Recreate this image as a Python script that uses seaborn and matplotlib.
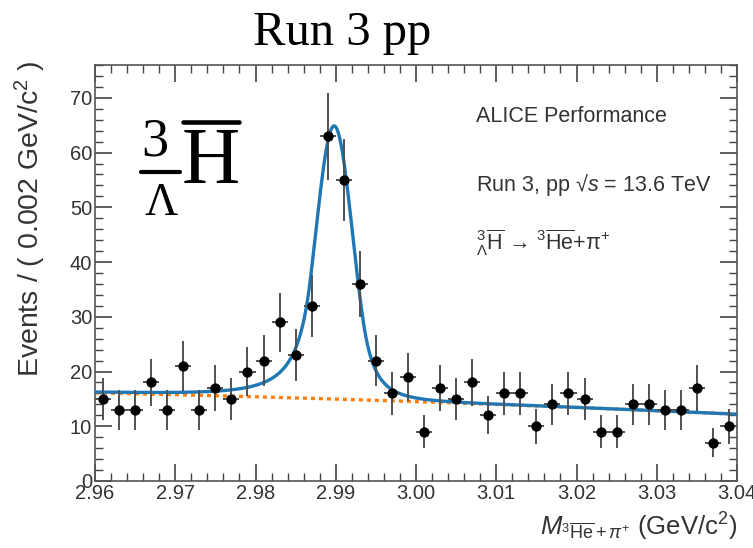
import numpy as np
import pandas as pd
import matplotlib
matplotlib.use("Agg")
import matplotlib.pyplot as plt
import seaborn as sns
from matplotlib.lines import Line2D

# ---------------- data ----------------
bin_centers = [2.961, 2.963, 2.965, 2.967, 2.969, 2.971, 2.973, 2.975, 2.977, 2.979,
               2.981, 2.983, 2.985, 2.987, 2.989, 2.991, 2.993, 2.995, 2.997, 2.999,
               3.001, 3.003, 3.005, 3.007, 3.009, 3.011, 3.013, 3.015, 3.017, 3.019,
               3.021, 3.023, 3.025, 3.027, 3.029, 3.031, 3.033, 3.035, 3.037, 3.039]
counts = [15, 13, 13, 18, 13, 21, 13, 17, 15, 20,
          22, 29, 23, 32, 63, 55, 36, 22, 16, 19,
          9, 17, 15, 18, 12, 16, 16, 10, 14, 16,
          15, 9, 9, 14, 14, 13, 13, 17, 7, 10]
bin_half_width = 0.001

# fit result (double-sided Crystal Ball + background)
sig_amp = 49.9
sig_mean = 2.9898
sig_sigma = 0.0023
alpha_left, n_left = 1.3, 2.5
alpha_right, n_right = 1.6, 4.0
bkg_x = [2.96, 3.00, 3.04]
bkg_y = [16.1, 14.5, 12.2]

x_ticks = [2.96, 2.97, 2.98, 2.99, 3.00, 3.01, 3.02, 3.03, 3.04]
y_ticks = [0, 10, 20, 30, 40, 50, 60, 70]

# ---------------- model ----------------
def dscb(x):
    t = (x - sig_mean) / sig_sigma
    out = np.exp(-0.5 * t ** 2)
    aL, nL, aR, nR = alpha_left, n_left, alpha_right, n_right
    AL = (nL / aL) ** nL * np.exp(-0.5 * aL ** 2)
    BL = nL / aL - aL
    AR = (nR / aR) ** nR * np.exp(-0.5 * aR ** 2)
    BR = nR / aR - aR
    m = t < -aL
    out[m] = AL * (BL - t[m]) ** (-nL)
    m = t > aR
    out[m] = AR * (BR + t[m]) ** (-nR)
    return sig_amp * out

bkg_coef = np.polyfit(bkg_x, bkg_y, 2)

xs = np.linspace(2.96, 3.04, 1200)
bkg = np.polyval(bkg_coef, xs)
total = bkg + dscb(xs)

df_pts = pd.DataFrame({"x": bin_centers, "y": counts})
df_curve = pd.DataFrame({"x": xs, "total": total, "bkg": bkg})

# ---------------- style ----------------
sns.set_theme(style="ticks")
plt.rcParams["font.family"] = ["Liberation Sans", "DejaVu Sans"]
plt.rcParams["mathtext.fontset"] = "custom"
plt.rcParams["mathtext.rm"] = "Liberation Sans"
plt.rcParams["mathtext.it"] = "Liberation Sans:italic"
plt.rcParams["mathtext.bf"] = "Liberation Sans:bold"
plt.rcParams["mathtext.sf"] = "Liberation Sans"

W, H = 753, 548
fig = plt.figure(figsize=(W / 100, H / 100), dpi=100)
ax = fig.add_axes([95 / W, 1 - 481 / H, (737 - 95) / W, (481 - 65) / H])

sns.lineplot(data=df_curve, x="x", y="bkg", ax=ax, color="#ff7f0e",
             lw=2.4, linestyle=(0, (1.2, 1.2)), zorder=2)
sns.lineplot(data=df_curve, x="x", y="total", ax=ax, color="#1f77b4",
             lw=2.4, zorder=3)

ax.errorbar(df_pts["x"], df_pts["y"], yerr=np.sqrt(df_pts["y"]),
            xerr=bin_half_width, fmt="none", ecolor="#505050", elinewidth=1.4,
            capsize=0, zorder=4)
sns.scatterplot(data=df_pts, x="x", y="y", ax=ax, color="black", s=55,
                edgecolor="black", linewidth=0, zorder=5)

ax.set_xlim(2.96, 3.04)
ax.set_ylim(0, 76)
ax.set_xticks(x_ticks)
ax.set_xticklabels([f"{v:.2f}" for v in x_ticks])
ax.set_yticks(y_ticks)
ax.set_yticklabels([str(v) for v in y_ticks])
ax.xaxis.set_minor_locator(matplotlib.ticker.MultipleLocator(0.002))
ax.yaxis.set_minor_locator(matplotlib.ticker.MultipleLocator(2))
ax.tick_params(which="both", direction="in", top=True, right=True,
               colors="#444444", labelcolor="#333333")
ax.tick_params(which="major", length=12, width=1.2, labelsize=14.5, pad=2)
ax.tick_params(which="minor", length=6, width=1.0)
for s in ax.spines.values():
    s.set_color("#555555")
    s.set_linewidth(1.2)

ax.set_xlabel(r"$M_{^{3}\overline{\mathrm{He}}+\pi^{+}}$ (GeV/c$^{2}$)",
              fontsize=18.5, color="#333333", loc="right", labelpad=6)
ax.set_ylabel(r"Events / ( 0.002 GeV/c$^{2}$ )", fontsize=20.5,
              color="#333333", loc="top", labelpad=16)
ax.yaxis.label.set_position((0, 1.01))

# ---------------- annotations ----------------
def fx(x):
    return x / W

def fy(y):
    return 1 - y / H

fig.text(fx(342), fy(45), "Run 3 pp", fontsize=35, family="Liberation Serif",
         ha="center", va="baseline", color="black")

# big hypertriton label
fig.text(fx(155), fy(155), "3", fontsize=39, family="Liberation Serif",
         ha="center", va="baseline", color="black")
fig.text(fx(161), fy(215), "Λ", fontsize=33, family="Liberation Serif",
         ha="center", va="baseline", color="black")
fig.text(fx(211), fy(183), "H", fontsize=58, family="Liberation Serif",
         ha="center", va="baseline", color="black")
fig.add_artist(Line2D([fx(141), fx(180)], [fy(172), fy(172)], color="black",
                      lw=3, transform=fig.transFigure))
fig.add_artist(Line2D([fx(183), fx(239)], [fy(122), fy(122)], color="black",
                      lw=3.3, transform=fig.transFigure))

ax.text(0.594, 0.875, "ALICE Performance", transform=ax.transAxes,
        fontsize=15.5, color="#333333", va="center", ha="left")
ax.text(0.594, 0.712, "Run 3, pp √$s$ = 13.6 TeV", transform=ax.transAxes,
        fontsize=15.5, color="#333333", va="center", ha="left")
ax.text(0.594, 0.572,
        r"$^{3}_{\Lambda}\overline{\mathrm{H}}$ → $^{3}\overline{\mathrm{He}}$+π$^{+}$",
        transform=ax.transAxes, fontsize=15.5, color="#333333", va="center", ha="left")

fig.savefig("out.png", dpi=100)
